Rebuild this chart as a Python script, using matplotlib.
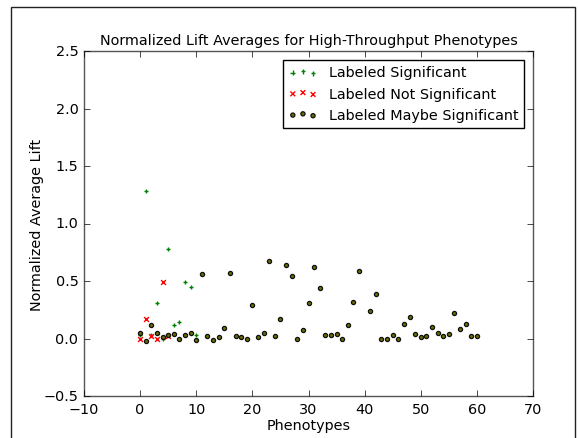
import matplotlib
matplotlib.use("Agg")
import matplotlib.pyplot as plt
from matplotlib.patches import Rectangle

# phenotypes labelled significant
sig_x = [0, 1, 2, 3, 4, 5, 6, 7, 8, 9, 10]
sig_y = [0.03, 1.28, 0.03, 0.31, 0.0, 0.78, 0.12, 0.14, 0.49, 0.45, 0.03]

# phenotypes labelled not significant
not_x = [0, 1, 2, 3, 4, 5]
not_y = [0.0, 0.17, 0.02, 0.0, 0.49, 0.02]

# phenotypes labelled maybe significant
maybe_x = [0, 1, 2, 3, 4, 5, 6, 7, 8, 9, 10, 11, 12, 13, 14, 15, 16, 17, 18, 19,
           20, 21, 22, 23, 24, 25, 26, 27, 28, 29, 30, 31, 32, 33, 34, 35, 36, 37,
           38, 39, 41, 42, 43, 44, 45, 46, 47, 48, 49, 50, 51, 52, 53, 54, 55, 56,
           57, 58, 59, 60]
maybe_y = [0.05, -0.02, 0.12, 0.05, 0.01, 0.03, 0.04, 0.0, 0.03, 0.05, -0.01, 0.56,
           0.02, -0.01, 0.01, 0.09, 0.57, 0.02, 0.01, 0.0, 0.29, 0.01, 0.05, 0.67,
           0.02, 0.17, 0.64, 0.54, 0.0, 0.07, 0.31, 0.62, 0.44, 0.03, 0.03, 0.035,
           0.0, 0.12, 0.32, 0.59, 0.24, 0.39, 0.0, 0.0, 0.03, 0.0, 0.13, 0.19,
           0.035, 0.01, 0.02, 0.1, 0.05, 0.02, 0.04, 0.22, 0.08, 0.13, 0.02, 0.02]

FS = 10.4

plt.style.use("classic")
plt.rcParams["font.family"] = "DejaVu Sans"
plt.rcParams["font.size"] = FS

fig = plt.figure(figsize=(5.78, 4.39), dpi=100, facecolor="white")
ax = fig.add_axes([84 / 578, 42 / 439, 449 / 578, 345 / 439])

ax.scatter(sig_x, sig_y, marker="+", color="g", s=12, linewidths=1.0,
           label="Labeled Significant")
ax.scatter(not_x, not_y, marker="x", color="r", s=12, linewidths=1.0,
           label="Labeled Not Significant")
ax.scatter(maybe_x, maybe_y, marker="o", color="#6b6b00", edgecolor="#111111", s=9,
           linewidths=0.9, label="Labeled Maybe Significant")

ax.set_xlim(-10, 70)
ax.set_ylim(-0.5, 2.5)
ax.set_title("Normalized Lift Averages for High-Throughput Phenotypes", fontsize=FS,
             pad=5)
ax.set_xlabel("Phenotypes", fontsize=FS, labelpad=2)
ax.set_ylabel("Normalized Average Lift", fontsize=FS, labelpad=0)
ax.tick_params(labelsize=FS)
for sp in ax.spines.values():
    sp.set_color("#555555")

ax.legend(loc="upper right", scatterpoints=3, fontsize=FS, frameon=True,
          borderaxespad=0.6)

# screenshot frame around the figure
fig.patches.append(Rectangle((11 / 578, -0.05), 564 / 578, 1.05 - 8 / 439,
                             transform=fig.transFigure, fill=False,
                             edgecolor="#222222", lw=1))

fig.savefig("out.png", dpi=100, facecolor="white")
